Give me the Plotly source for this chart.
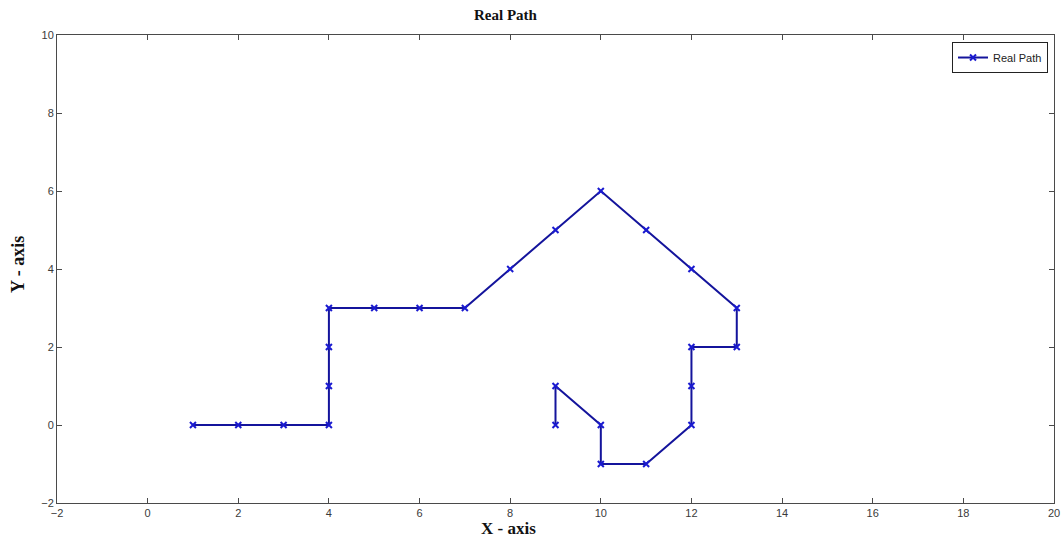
import plotly.graph_objects as go

# Path waypoints
path_x = [1, 2, 3, 4, 4, 4, 4, 5, 6, 7, 8, 9, 10, 11, 12, 13, 13, 12, 12, 12, 11, 10, 10, 9, 9]
path_y = [0, 0, 0, 0, 1, 2, 3, 3, 3, 3, 4, 5, 6, 5, 4, 3, 2, 2, 1, 0, -1, -1, 0, 1, 0]

x_ticks = [-2, 0, 2, 4, 6, 8, 10, 12, 14, 16, 18, 20]
y_ticks = [-2, 0, 2, 4, 6, 8, 10]

W, H = 1061, 538
L, R, T, B = 57, 7, 35, 35

fig = go.Figure()
fig.add_trace(go.Scatter(
    x=path_x, y=path_y, mode="lines+markers", name="Real Path",
    line=dict(color="#14149c", width=2),
    marker=dict(symbol="x-thin", size=6, line=dict(color="#1a1ad0", width=2), color="#1a1ad0"),
))

axis_common = dict(
    showgrid=False, zeroline=False, showline=True, linecolor="#4a4a4a", linewidth=1,
    mirror="ticks", ticks="inside", ticklen=5, tickcolor="#4a4a4a", automargin=False,
    tickfont=dict(family="Arial, Liberation Sans, sans-serif", size=11, color="#3a3a3a"),
)
fig.update_xaxes(range=[-2, 20], tickvals=x_ticks, **axis_common)
fig.update_yaxes(range=[-2, 10], tickvals=y_ticks, **axis_common)

serif = "Times New Roman, Liberation Serif, serif"
pw = W - L - R
ph = H - T - B
fig.update_layout(
    width=W, height=H, margin=dict(l=L, r=R, t=T, b=B, autoexpand=False),
    plot_bgcolor="white", paper_bgcolor="white",
    showlegend=True,
    legend=dict(x=0.994, y=0.985, xanchor="right", yanchor="top",
                bordercolor="#222222", borderwidth=1, bgcolor="white",
                font=dict(family="Arial, Liberation Sans, sans-serif", size=11, color="#222222"),
                tracegroupgap=0, itemwidth=30),
    annotations=[
        dict(text="<b>Real Path</b>", xref="paper", yref="paper",
             x=(506 - L) / pw, y=1 + (T - 15) / ph, xanchor="center", yanchor="middle",
             showarrow=False, font=dict(family=serif, size=15, color="#111111")),
        dict(text="<b>X - axis</b>", xref="paper", yref="paper",
             x=(508 - L) / pw, y=-(528 - (H - B)) / ph, xanchor="center", yanchor="middle",
             showarrow=False, font=dict(family=serif, size=17, color="#111111")),
        dict(text="<b>Y - axis</b>", xref="paper", yref="paper",
             x=-(L - 18) / pw, y=1 - (265 - T) / ph, xanchor="center", yanchor="middle",
             textangle=-90, showarrow=False, font=dict(family=serif, size=18, color="#111111")),
    ],
)

fig.write_html("out.html")
